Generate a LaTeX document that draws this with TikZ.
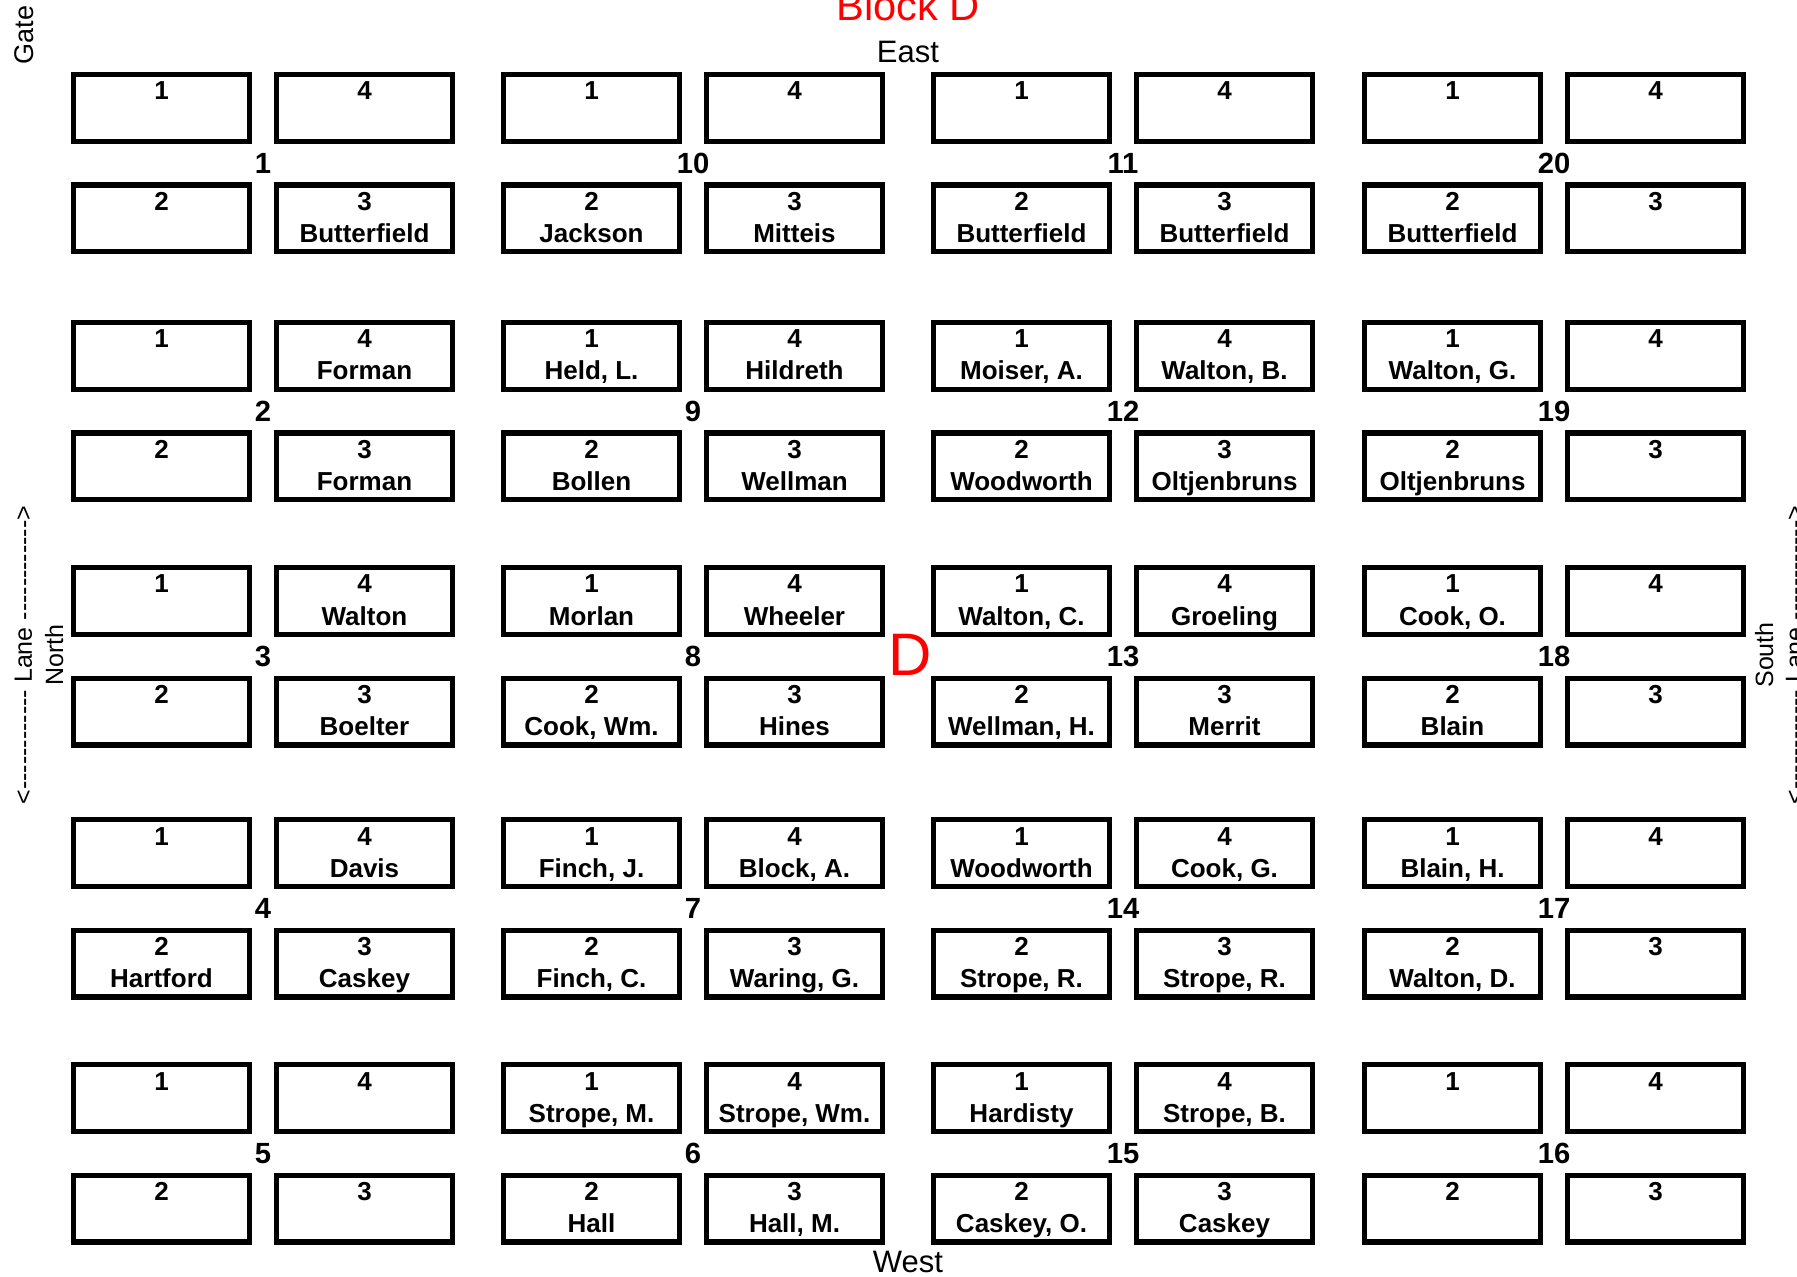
\documentclass[tikz,border=0pt]{standalone}
\usepackage{fontspec}
\setmainfont{Liberation Sans}
\newcommand\plotbox[5]{%
  \node[plotrect] (#1) at ({#2+90.5},{#3+36}) {};
  \node[plottext] (#1n) at ({#2+90.5},{#3+28}) {#4};
  \if\relax\detokenize{#5}\relax\else
    \node[plottext] (#1l) at ({#2+90.5},{#3+60}) {#5};
  \fi}
\newcommand\fieldblock[7]{%
  \plotbox{p#1a}{#2}{#3}{1}{#4}%
  \plotbox{p#1d}{#2+203}{#3}{4}{#5}%
  \plotbox{p#1b}{#2}{#3+110.5}{2}{#6}%
  \plotbox{p#1c}{#2+203}{#3+110.5}{3}{#7}%
  \node[blocknum] (blk#1) at ({#2+192},{#3+91.5}) {#1};}
\newcommand\lanedashes{-{}-{}-{}-{}-{}-{}-{}-{}-{}-{}-{}-}
\begin{document}
\begin{tikzpicture}[x=0.5pt,y=-0.5pt,
  plotrect/.style={draw, line width=2.7pt, minimum width=87.8pt, minimum height=33.3pt, inner sep=0pt},
  plottext/.style={font=\bfseries\fontsize{13}{14}\selectfont, anchor=base, inner sep=0pt},
  blocknum/.style={font=\bfseries\fontsize{14.6}{16}\selectfont, inner sep=0pt},
  sidelabel/.style={font=\fontsize{12.5}{14}\selectfont, rotate=90, anchor=base, inner sep=0pt},
  compass/.style={font=\fontsize{15.5}{18}\selectfont, anchor=base, inner sep=0pt}]
\useasboundingbox (0,0) rectangle (1797,1277);
% row pair 1
\fieldblock{1}{71}{72}{}{}{}{Butterfield}
\fieldblock{10}{501}{72}{}{}{Jackson}{Mitteis}
\fieldblock{11}{931}{72}{}{}{Butterfield}{Butterfield}
\fieldblock{20}{1362}{72}{}{}{Butterfield}{}
% row pair 2
\fieldblock{2}{71}{320}{}{Forman}{}{Forman}
\fieldblock{9}{501}{320}{Held, L.}{Hildreth}{Bollen}{Wellman}
\fieldblock{12}{931}{320}{Moiser, A.}{Walton, B.}{Woodworth}{Oltjenbruns}
\fieldblock{19}{1362}{320}{Walton, G.}{}{Oltjenbruns}{}
% row pair 3
\fieldblock{3}{71}{565}{}{Walton}{}{Boelter}
\fieldblock{8}{501}{565}{Morlan}{Wheeler}{Cook, Wm.}{Hines}
\fieldblock{13}{931}{565}{Walton, C.}{Groeling}{Wellman, H.}{Merrit}
\fieldblock{18}{1362}{565}{Cook, O.}{}{Blain}{}
% row pair 4
\fieldblock{4}{71}{817}{}{Davis}{Hartford}{Caskey}
\fieldblock{7}{501}{817}{Finch, J.}{Block, A.}{Finch, C.}{Waring, G.}
\fieldblock{14}{931}{817}{Woodworth}{Cook, G.}{Strope, R.}{Strope, R.}
\fieldblock{17}{1362}{817}{Blain, H.}{}{Walton, D.}{}
% row pair 5
\fieldblock{5}{71}{1062}{}{}{}{}
\fieldblock{6}{501}{1062}{Strope, M.}{Strope, Wm.}{Hall}{Hall, M.}
\fieldblock{15}{931}{1062}{Hardisty}{Strope, B.}{Caskey, O.}{Caskey}
\fieldblock{16}{1362}{1062}{}{}{}{}
% labels
\node[font=\fontsize{20.8}{24}\selectfont, text=red, anchor=base, inner sep=0pt] (title) at (908,21) {Block D};
\node[compass] (east) at (908,63) {East};
\node[compass] (west) at (908,1272) {West};
\node[font=\fontsize{30}{34}\selectfont, text=red, anchor=base, inner sep=0pt] (dmark) at (910,675) {D};
\node[sidelabel, font=\fontsize{13.5}{15}\selectfont] (gate) at (33,35) {Gate};
\node[sidelabel] (northlane) at (32,655) {<\lanedashes{} Lane \lanedashes>};
\node[sidelabel] (north) at (63,655) {North};
\node[sidelabel] (south) at (1773,655) {South};
\node[sidelabel] (southlane) at (1803,655) {<\lanedashes{} Lane \lanedashes>};
\end{tikzpicture}
\end{document}
